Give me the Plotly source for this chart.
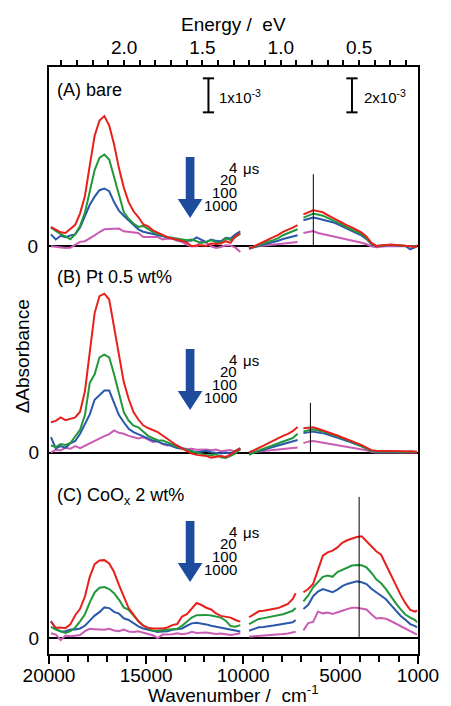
import plotly.graph_objects as go

# ---------------- data (ΔAbsorbance in units of 1e-3) ----------------
WN_LEFT = [19900, 19650, 19400, 19150, 18900, 18650, 18400, 18150, 17900, 17650,
           17400, 17150, 16900, 16650, 16400, 16150, 15900, 15650, 15400, 15150,
           14900, 14650, 14400, 14150, 13900, 13650, 13400, 13150, 12900, 12650,
           12400, 12150, 11900, 11650, 11400, 11150, 10900, 10650, 10400, 10150]
WN_MID_AB = [9700, 9450, 9200, 8950, 8700, 8450, 8200, 7950, 7700, 7450, 7200]
WN_MID_C = [9700, 9450, 9200, 8950, 8700, 8450, 8200, 7950, 7700, 7450, 7300]
WN_RIGHT = [6900, 6650, 6400, 6150, 5900, 5650, 5400, 5150, 4900, 4650, 4400, 4150,
            3900, 3650, 3400, 3150, 2900, 2650, 2400, 2150, 1900, 1650, 1400, 1150, 1050]

DELAYS = ["4", "20", "100", "1000"]

# Panel A: bare
A_LEFT = {
    "4": [0.57,0.48,0.41,0.39,0.50,0.63,0.97,1.48,2.38,3.25,3.70,3.83,3.55,3.00,2.30,1.73,1.30,1.03,0.86,0.65,
          0.59,0.47,0.40,0.33,0.27,0.23,0.20,0.16,0.11,0.00,0.02,0.03,0.01,0.08,0.07,0.08,0.15,0.10,0.30,0.37],
    "20": [0.55,0.45,0.36,0.29,0.21,0.36,0.60,0.99,1.59,2.24,2.60,2.70,2.55,2.05,1.47,1.01,0.81,0.67,0.57,0.60,
           0.51,0.42,0.36,0.31,0.27,0.25,0.23,0.20,0.18,0.20,0.15,0.10,0.13,0.18,0.12,0.10,0.23,0.19,0.27,0.37],
    "100": [0.35,0.20,0.31,0.27,0.32,0.35,0.55,0.90,1.22,1.46,1.65,1.70,1.62,1.30,1.05,0.90,0.76,0.62,0.50,0.43,
            0.40,0.37,0.33,0.30,0.28,0.24,0.20,0.15,0.16,0.17,0.26,0.18,0.12,0.20,0.16,0.15,0.25,0.23,0.35,0.44],
    "1000": [0.00,-0.02,-0.04,-0.05,-0.04,0.05,0.13,0.15,0.23,0.32,0.42,0.50,0.51,0.51,0.52,0.44,0.42,0.42,0.39,0.27,
             0.27,0.28,0.27,0.20,0.23,0.22,0.16,0.13,0.04,0.00,0.00,0.15,0.10,0.00,-0.05,-0.02,0.03,0.02,-0.04,-0.17],
}
A_MID = {
    "4": [-0.14,0.00,0.12,0.27,0.38,0.53,0.67,0.85,1.00,1.10,1.24],
    "20": [-0.14,-0.03,0.08,0.17,0.27,0.36,0.48,0.65,0.76,0.87,1.00],
    "100": [-0.14,-0.06,0.01,0.07,0.15,0.22,0.33,0.43,0.50,0.56,0.65],
    "1000": [-0.06,-0.03,0.00,0.02,0.05,0.08,0.12,0.14,0.17,0.20,0.25],
}
A_RIGHT = {
    "4": [1.88,2.00,2.12,2.07,2.00,1.84,1.68,1.53,1.37,1.23,1.11,0.96,0.80,0.57,0.20,0.02,0.06,0.08,0.10,0.08,0.06,0.03,0.00,-0.05,0.06],
    "20": [1.69,1.80,1.92,1.87,1.80,1.67,1.55,1.41,1.28,1.12,0.98,0.84,0.71,0.49,0.17,0.02,0.05,0.07,0.08,0.07,0.05,0.03,0.00,-0.03,0.03],
    "100": [1.53,1.62,1.69,1.63,1.57,1.50,1.42,1.30,1.16,1.04,0.91,0.78,0.63,0.42,0.12,0.00,0.04,0.06,0.07,0.05,0.04,0.02,-0.18,-0.05,0.00],
    "1000": [0.78,0.85,0.90,0.78,0.72,0.65,0.59,0.52,0.45,0.40,0.35,0.28,0.21,0.12,0.00,-0.06,-0.02,0.00,0.00,0.00,0.00,0.00,0.00,0.00,0.00],
}

# Panel B: Pt 0.5 wt%
B_LEFT = {
    "4": [0.89,0.93,1.03,0.95,0.99,1.03,1.20,1.80,2.95,4.10,4.60,4.67,4.50,3.70,2.80,2.07,1.58,1.19,0.97,0.80,
          0.72,0.66,0.60,0.50,0.40,0.28,0.20,0.12,0.04,-0.03,-0.07,-0.09,-0.10,-0.15,-0.13,-0.10,-0.13,-0.06,0.05,0.11],
    "20": [0.21,0.16,0.25,0.22,0.28,0.47,0.67,1.10,2.05,2.30,2.80,2.88,2.80,2.30,1.75,1.19,0.94,0.79,0.74,0.60,
           0.49,0.42,0.36,0.35,0.30,0.24,0.17,0.12,0.07,0.03,0.00,-0.03,-0.08,-0.08,-0.05,-0.14,-0.16,-0.10,-0.03,0.11],
    "100": [0.45,0.12,0.19,0.14,0.27,0.34,0.55,0.82,1.12,1.55,1.70,1.82,1.82,1.46,1.10,0.89,0.70,0.60,0.54,0.47,
            0.42,0.35,0.32,0.26,0.23,0.18,0.13,0.11,0.08,0.06,0.01,0.03,0.05,0.01,-0.02,-0.03,0.00,-0.03,0.05,0.13],
    "1000": [0.00,0.08,0.06,0.14,0.11,0.19,0.13,0.20,0.28,0.36,0.43,0.48,0.54,0.65,0.58,0.55,0.49,0.44,0.41,0.45,
             0.37,0.31,0.34,0.25,0.21,0.25,0.21,0.13,0.10,0.11,0.08,0.09,0.09,0.07,0.09,0.04,0.06,0.07,0.01,0.08],
}
B_MID = {
    "4": [0.00,0.12,0.25,0.40,0.55,0.70,0.85,0.98,1.10,1.25,1.50],
    "20": [-0.14,0.00,0.12,0.22,0.32,0.43,0.53,0.62,0.72,0.85,1.10],
    "100": [-0.04,0.02,0.10,0.16,0.25,0.33,0.40,0.48,0.57,0.65,0.74],
    "1000": [0.00,0.03,0.05,0.08,0.10,0.12,0.15,0.20,0.25,0.27,0.29],
}
B_RIGHT = {
    "4": [1.43,1.47,1.48,1.40,1.31,1.20,1.10,1.00,0.88,0.78,0.69,0.55,0.43,0.29,0.14,0.10,0.10,0.10,0.10,0.08,0.08,0.07,0.06,0.06,0.05],
    "20": [1.24,1.32,1.36,1.29,1.24,1.14,1.04,0.93,0.84,0.74,0.65,0.50,0.38,0.24,0.10,0.06,0.06,0.06,0.05,0.05,0.05,0.04,0.04,0.04,0.03],
    "100": [1.14,1.20,1.23,1.17,1.14,1.06,0.98,0.88,0.78,0.68,0.59,0.46,0.36,0.22,0.10,0.04,0.03,0.03,0.02,0.02,0.02,0.02,0.06,0.00,0.02],
    "1000": [0.55,0.64,0.68,0.63,0.59,0.55,0.50,0.45,0.39,0.35,0.31,0.26,0.20,0.13,0.05,0.00,0.00,0.00,0.00,0.00,0.00,0.00,0.00,0.00,0.00],
}

# Panel C: CoOx 2 wt%
C_LEFT = {
    "4": [0.48,0.30,0.31,0.29,0.40,0.67,0.86,1.22,1.80,2.17,2.28,2.29,2.19,1.94,1.56,1.20,0.88,0.69,0.49,0.36,
          0.30,0.28,0.28,0.28,0.31,0.38,0.41,0.63,0.70,0.86,1.03,0.97,0.89,0.84,0.72,0.65,0.63,0.60,0.53,0.48],
    "20": [0.33,0.25,0.20,0.15,0.20,0.31,0.49,0.70,1.05,1.34,1.48,1.50,1.44,1.32,1.13,0.90,0.83,0.65,0.50,0.37,
           0.28,0.21,0.21,0.22,0.24,0.24,0.27,0.36,0.47,0.60,0.67,0.68,0.68,0.66,0.64,0.60,0.51,0.35,0.33,0.38],
    "100": [0.50,0.27,0.19,0.20,0.25,0.25,0.28,0.36,0.51,0.66,0.76,0.90,0.88,0.77,0.72,0.58,0.53,0.43,0.34,0.28,
            0.25,0.20,0.18,0.19,0.20,0.24,0.27,0.28,0.36,0.43,0.45,0.43,0.40,0.36,0.33,0.29,0.27,0.25,0.21,0.19],
    "1000": [0.14,0.10,-0.06,0.07,0.05,0.07,0.09,0.20,0.27,0.26,0.24,0.24,0.27,0.22,0.20,0.25,0.19,0.18,0.20,0.15,
             0.12,0.08,0.00,0.10,0.10,0.11,0.14,0.11,0.13,0.18,0.15,0.16,0.16,0.14,0.12,0.13,0.10,0.09,0.11,0.14],
}
C_MID = {
    "4": [1.22,1.40,1.57,1.60,1.65,1.70,1.76,1.88,2.00,2.30,2.63],
    "20": [0.82,0.97,1.12,1.17,1.22,1.27,1.33,1.40,1.50,1.60,1.76],
    "100": [0.43,0.55,0.63,0.65,0.67,0.73,0.78,0.83,0.87,0.93,1.06],
    "1000": [0.08,0.10,0.14,0.14,0.14,0.17,0.20,0.24,0.27,0.31,0.37],
}
C_RIGHT = {
    "4": [2.69,2.88,3.18,3.96,4.84,5.04,5.14,5.33,5.60,5.75,5.85,5.94,5.98,5.70,5.40,5.10,4.90,4.30,3.70,3.10,2.55,2.05,1.65,1.55,1.62],
    "20": [2.16,2.50,2.98,3.27,3.60,3.68,3.60,3.88,4.02,4.15,4.26,4.30,4.28,4.15,3.84,3.45,3.22,2.87,2.45,2.05,1.70,1.38,1.20,1.05,0.92],
    "100": [1.71,1.95,2.46,2.73,2.88,2.80,2.69,2.85,3.05,3.18,3.26,3.33,3.28,3.17,2.90,2.68,2.49,2.28,1.95,1.60,1.31,1.08,0.82,0.70,0.63],
    "1000": [0.45,0.88,0.95,1.55,1.45,1.50,1.42,1.53,1.60,1.70,1.78,1.78,1.72,1.68,1.40,1.15,1.17,1.13,1.00,0.85,0.73,0.57,0.42,0.30,0.20],
}

# vertical marker lines (wavenumber, height in right-scale units)
MARKER_WN = [6390, 6540, 4030]
MARKER_TOP = [4.24, 2.92, 8.30]

# scale bars (panel A): 1x10^-3 (left region), 2x10^-3 (right region)
SCALE_WN = [11790, 4400]
SCALE_BASE = [3.94, 7.88]
SCALE_LEN = [1.0, 2.0]

PANEL_LABELS = ["(A) bare", "(B) Pt 0.5 wt%", "(C) CoO<sub>x</sub> 2 wt%"]

# ---------------- styling / layout ----------------
W, H = 451, 706
L, R, T, B = 49, 423, 67, 654
PW, PH = R - L, B - T
PX_PER_UNIT = 34.0
FONT = "Liberation Sans, Arial, sans-serif"
COLORS = {"4": "#e8201c", "20": "#23973c", "100": "#2a58aa", "1000": "#c95cb3"}
ARROW_COLOR = "#1d4c9e"
ZERO_PX = [246.3, 452.5, 638.0]
ARROW_TOP_PX = [157, 349, 521]
LABEL_PX = [90, 277, 496]


def px(x):
    return (x - L) / PW


def py(y):
    return (B - y) / PH


fig = go.Figure()

panels = [
    (A_LEFT, A_MID, A_RIGHT, WN_MID_AB),
    (B_LEFT, B_MID, B_RIGHT, WN_MID_AB),
    (C_LEFT, C_MID, C_RIGHT, WN_MID_C),
]

layout_axes = {}
for i, (left, mid, right, wn_mid) in enumerate(panels):
    yl = "y" if i == 0 else f"y{2 * i + 1}"
    yr = f"y{2 * i + 2}"
    for d in ["1000", "100", "20", "4"]:
        style = dict(color=COLORS[d], width=2)
        fig.add_trace(go.Scatter(x=WN_LEFT, y=left[d], mode="lines", line=style,
                                 yaxis=yl, showlegend=False, hoverinfo="skip"))
        fig.add_trace(go.Scatter(x=wn_mid, y=mid[d], mode="lines", line=style,
                                 yaxis=yr, showlegend=False, hoverinfo="skip"))
        fig.add_trace(go.Scatter(x=WN_RIGHT, y=right[d], mode="lines", line=style,
                                 yaxis=yr, showlegend=False, hoverinfo="skip"))
    # vertical marker
    fig.add_trace(go.Scatter(x=[MARKER_WN[i], MARKER_WN[i]], y=[0, MARKER_TOP[i]], mode="lines",
                             line=dict(color="black", width=1), yaxis=yr,
                             showlegend=False, hoverinfo="skip"))

    z = ZERO_PX[i]
    lo = -(B - z) / PX_PER_UNIT
    hi = (z - T) / PX_PER_UNIT
    key_l = "yaxis" if i == 0 else f"yaxis{2 * i + 1}"
    key_r = f"yaxis{2 * i + 2}"
    ax_l = dict(range=[lo, hi], domain=[0, 1], showgrid=False, zeroline=True,
                zerolinecolor="black", zerolinewidth=2, tickvals=[0], ticktext=["0"],
                ticks="outside", ticklen=5, tickcolor="rgba(0,0,0,0)",
                tickfont=dict(size=19, color="black", family=FONT), fixedrange=True)
    if i == 0:
        ax_l.update(showline=True, mirror=True, linecolor="black", linewidth=2)
    else:
        ax_l.update(overlaying="y", anchor="x", side="left", showline=False)
    layout_axes[key_l] = ax_l
    layout_axes[key_r] = dict(range=[2 * lo, 2 * hi], domain=[0, 1], overlaying="y",
                              anchor="x", visible=False, showgrid=False, zeroline=False)

# scale bars in panel A
for j, yref in enumerate(["y", "y2"]):
    fig.add_trace(go.Scatter(x=[SCALE_WN[j], SCALE_WN[j]],
                             y=[SCALE_BASE[j], SCALE_BASE[j] + SCALE_LEN[j]],
                             mode="lines+markers", line=dict(color="black", width=2),
                             marker=dict(symbol="line-ew-open", size=8, color="black",
                                         line=dict(width=2, color="black")),
                             yaxis=yref, showlegend=False, hoverinfo="skip"))

# dummy trace on top energy axis so it renders
fig.add_trace(go.Scatter(x=[None], y=[None], xaxis="x2", yaxis="y", showlegend=False))

fig.update_layout(
    width=W, height=H,
    margin=dict(l=L, r=W - R, t=T, b=H - B),
    paper_bgcolor="white", plot_bgcolor="white",
    font=dict(family=FONT, color="black"),
    xaxis=dict(range=[20000, 1000], showgrid=False, zeroline=False,
               showline=True, mirror=True, linecolor="black", linewidth=2,
               tickvals=[20000, 15000, 10000, 5000, 1000],
               ticktext=["20000", "15000", "10000", "5000", "1000"],
               ticks="outside", ticklen=8, tickwidth=1.5, tickcolor="black",
               ticklabelstandoff=-5,
               minor=dict(ticks="outside", dtick=1000, tick0=0, ticklen=6,
                          tickwidth=1.5, tickcolor="black"),
               tickfont=dict(size=19, family=FONT, color="black"), fixedrange=True),
    xaxis2=dict(overlaying="x", side="top", anchor="y",
                range=[20000 / 8065.54, 1000 / 8065.54], showgrid=False, zeroline=False,
                tickvals=[2.0, 1.5, 1.0, 0.5], ticktext=["2.0", "1.5", "1.0", "0.5"],
                ticks="outside", ticklen=6, tickwidth=1.5, tickcolor="black",
                ticklabelstandoff=-2,
                minor=dict(ticks="outside", dtick=0.1, tick0=0, ticklen=6,
                           tickwidth=1.5, tickcolor="black"),
                tickfont=dict(size=19, family=FONT, color="black"), fixedrange=True),
    showlegend=False,
    **layout_axes,
)

ann = []
# axis titles
ann.append(dict(text="Energy /  eV", x=0.5, y=py(24), xref="paper", yref="paper",
                xanchor="center", yanchor="middle", showarrow=False,
                font=dict(size=19, family=FONT, color="black")))
ann.append(dict(text="Wavenumber /  cm<sup>-1</sup>", x=0.5, y=py(694), xref="paper", yref="paper",
                xanchor="center", yanchor="middle", showarrow=False,
                font=dict(size=19, family=FONT, color="black")))
ann.append(dict(text="ΔAbsorbance", x=px(22), y=py(356), xref="paper", yref="paper",
                xanchor="center", yanchor="middle", textangle=-90, showarrow=False,
                font=dict(size=19, family=FONT, color="black")))

shapes = []
for i in range(3):
    ann.append(dict(text=PANEL_LABELS[i], x=px(55), y=py(LABEL_PX[i]), xref="paper", yref="paper",
                    xanchor="left", yanchor="middle", showarrow=False,
                    font=dict(size=18, family=FONT, color="black")))
    top = ARROW_TOP_PX[i]
    for k, d in enumerate(DELAYS):
        yy = top + 10 + k * 12.7
        ann.append(dict(text=d, x=px(242), y=py(yy), xref="paper", yref="paper",
                        xanchor="right", yanchor="middle", showarrow=False,
                        font=dict(size=15, family=FONT, color="black")))
    ann.append(dict(text="μs", x=px(244), y=py(top + 11.5), xref="paper", yref="paper",
                    xanchor="left", yanchor="middle", showarrow=False,
                    font=dict(size=15, family=FONT, color="black")))
    cx = 192
    hw, hh = 4.4, 12.5
    head = top + 42
    tip = top + 61
    pts = [(cx - hw, top), (cx + hw, top), (cx + hw, head), (cx + hh, head),
           (cx, tip), (cx - hh, head), (cx - hw, head)]
    path = "M " + " L ".join(f"{px(a):.5f},{py(b):.5f}" for a, b in pts) + " Z"
    shapes.append(dict(type="path", path=path, xref="paper", yref="paper",
                       fillcolor=ARROW_COLOR, line=dict(width=0)))

# scale bar labels
ann.append(dict(text="1x10<sup>-3</sup>", x=px(219), y=py(96), xref="paper", yref="paper",
                xanchor="left", yanchor="middle", showarrow=False,
                font=dict(size=15, family=FONT, color="black")))
ann.append(dict(text="2x10<sup>-3</sup>", x=px(366), y=py(96), xref="paper", yref="paper",
                xanchor="left", yanchor="middle", showarrow=False,
                font=dict(size=15, family=FONT, color="black")))

fig.update_layout(annotations=ann, shapes=shapes)
fig.write_html(
    "out.html",
    config={"displayModeBar": False},
    post_script="document.body.style.margin='0';document.body.style.overflow='hidden';",
)
